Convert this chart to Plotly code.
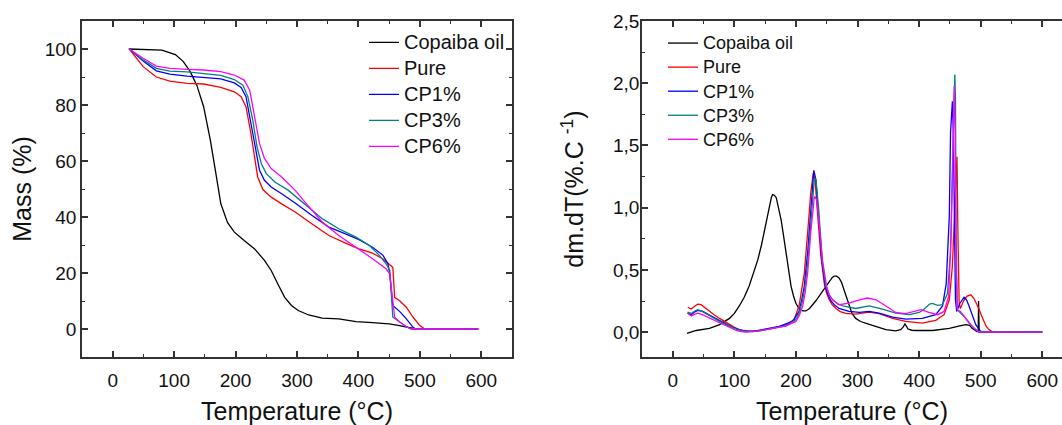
import plotly.graph_objects as go

# ---------------- TGA data (left panel) ----------------
tga_oil_T = [26, 50, 80, 102, 115, 126, 137, 148, 159, 168, 176, 187, 198, 214, 231, 247, 258, 269, 280, 291, 302, 319, 341, 368, 379, 396, 423, 450, 467, 483, 494, 595]
tga_oil_M = [100, 99.9, 99.6, 98, 95.5, 92, 87, 79.4, 67.4, 55.5, 44.7, 38, 34.6, 31.6, 28.6, 24.5, 20.9, 16, 11.3, 8.4, 6.6, 5.0, 3.9, 3.6, 3.2, 2.6, 2.3, 1.8, 1.2, 0.4, 0, 0]

tga_pure_T = [27, 49.5, 71, 93, 121, 148, 176, 198, 209, 217, 225, 231, 236, 244.5, 258, 275, 297, 324, 352, 379, 401, 423, 440, 456, 459, 467, 478, 489, 500, 508, 595]
tga_pure_M = [100, 93.7, 90, 88.5, 87.7, 87.5, 86.3, 84.7, 83, 79.4, 69.8, 61.5, 54.3, 49.8, 47.1, 44.7, 41.8, 37.6, 33.4, 30.7, 28.6, 27.1, 25, 22, 11.3, 10.1, 7.8, 4.2, 1.2, 0, 0]

tga_cp1_T = [27, 49.5, 71, 93, 121, 148, 176, 198, 209, 217, 225, 233, 239, 247, 258, 275, 297, 324, 352, 379, 401, 423, 440, 448, 451, 456, 467, 478, 489, 493, 595]
tga_cp1_M = [100, 95.7, 92.2, 91, 90.3, 89.9, 89.3, 87.9, 86.3, 83, 73.4, 62.6, 56.7, 53.1, 50.7, 48.3, 45, 40.6, 36.4, 34, 31.9, 29.2, 26.3, 23.3, 19.7, 8.4, 6.3, 3.6, 0.6, 0, 0]

tga_cp3_T = [27, 49.5, 71, 93, 121, 148, 176, 198, 212, 220, 228, 235, 242, 250, 264, 286, 313, 341, 368, 396, 418, 434, 445, 451, 456, 467, 478, 486, 595]
tga_cp3_M = [100, 96.1, 93.1, 92.1, 91.8, 91.3, 90.6, 89.1, 87.1, 83, 74.6, 65, 59, 55.5, 52.5, 49.5, 44.7, 39.4, 35.8, 32.8, 29.8, 26.3, 23.3, 20.9, 4.2, 2.4, 0.8, 0, 0]

tga_cp6_T = [27, 49.5, 71, 93, 121, 148, 176, 198, 214, 223, 231, 239, 247, 258, 275, 297, 313, 341, 368, 396, 423, 445, 451, 459, 467, 478, 486, 595]
tga_cp6_M = [100, 96.7, 93.9, 93.1, 92.7, 92.5, 91.9, 90.7, 88.9, 85.3, 75.8, 66.2, 60.9, 57.3, 54.3, 49.5, 45.3, 38.2, 33.4, 29.2, 25.1, 21.5, 19.7, 4.2, 2.6, 0.8, 0, 0]

# ---------------- DTG data (right panel) ----------------
dtg_oil_T = [23, 38, 59.5, 76, 92, 100, 108, 116, 124, 131, 138, 144, 149, 153, 157, 160, 162, 165, 168, 172, 176, 180, 184, 188, 192, 196, 200, 205, 211, 216, 222, 232, 243, 254, 259, 262, 266, 270, 274, 278, 282, 286, 291, 297, 305, 314, 330, 346, 362, 370, 374, 377, 379, 382, 388, 395, 422, 449, 466, 476, 482, 486, 494, 496, 496.5, 497.5, 600]
dtg_oil_V = [-0.01, 0.013, 0.03, 0.06, 0.11, 0.15, 0.21, 0.28, 0.37, 0.47, 0.58, 0.7, 0.82, 0.93, 1.02, 1.08, 1.105, 1.1, 1.08, 1.0, 0.9, 0.77, 0.64, 0.5, 0.37, 0.29, 0.23, 0.19, 0.17, 0.17, 0.19, 0.25, 0.33, 0.41, 0.44, 0.45, 0.45, 0.435, 0.4, 0.34, 0.28, 0.21, 0.15, 0.11, 0.085, 0.07, 0.045, 0.02, 0.01, 0.02, 0.04, 0.065, 0.05, 0.025, 0.015, 0.013, 0.013, 0.03, 0.05, 0.06, 0.055, 0.03, 0.005, 0.005, 0.25, 0.0, 0.0]

dtg_pure_T = [24.3, 30, 35, 40.5, 46, 52, 59.5, 67, 76, 84, 92, 100, 108, 116, 124, 140.5, 162, 184, 197, 205, 209, 213.5, 219, 224, 228, 231, 235, 240.5, 246, 250, 254, 259, 265, 272, 281, 297, 319, 335, 357, 378, 405, 427, 440.5, 449, 454, 458, 461.5, 463, 465, 467, 472, 478, 484, 489, 493, 497, 501, 505, 509, 513.5, 519, 600]
dtg_pure_V = [0.2, 0.185, 0.205, 0.225, 0.22, 0.195, 0.166, 0.14, 0.11, 0.085, 0.06, 0.038, 0.02, 0.01, 0.005, 0.013, 0.03, 0.06, 0.1, 0.21, 0.32, 0.47, 0.8, 1.12, 1.275, 1.225, 0.96, 0.61, 0.39, 0.31, 0.26, 0.22, 0.19, 0.165, 0.15, 0.145, 0.16, 0.148, 0.11, 0.086, 0.072, 0.094, 0.14, 0.26, 0.53, 1.06, 1.41, 0.8, 0.23, 0.19, 0.25, 0.29, 0.3, 0.27, 0.235, 0.19, 0.135, 0.086, 0.045, 0.02, 0.0, 0.0]

dtg_cp1_T = [24, 30, 35, 40.5, 48.6, 56, 65, 73, 81, 89, 97, 105, 113.5, 130, 151, 173, 194.6, 205, 209, 213.5, 219, 224, 229, 232.4, 237, 242, 247.6, 252, 257, 263, 270, 286, 303, 319, 335, 357, 378, 405, 427, 438, 444, 449, 451, 454, 455.6, 457, 459, 461, 466, 473, 477, 481, 484, 488, 492, 500, 600]
dtg_cp1_V = [0.153, 0.14, 0.16, 0.175, 0.166, 0.145, 0.12, 0.098, 0.078, 0.058, 0.038, 0.022, 0.01, 0.005, 0.024, 0.046, 0.086, 0.166, 0.25, 0.37, 0.64, 1.01, 1.3, 1.225, 0.93, 0.58, 0.37, 0.3, 0.25, 0.215, 0.19, 0.166, 0.158, 0.166, 0.153, 0.12, 0.105, 0.11, 0.14, 0.21, 0.39, 0.93, 1.6, 1.855, 1.6, 0.8, 0.26, 0.166, 0.23, 0.28, 0.26, 0.21, 0.166, 0.11, 0.06, 0.005, 0.0]

dtg_cp3_T = [24, 30, 35, 40.5, 47, 54, 62, 70, 78, 86.5, 95, 103, 111, 119, 140.5, 162, 184, 200, 205, 211, 215, 219, 224, 230, 232.4, 237, 243, 248.6, 254, 259.5, 267, 276, 297, 319, 340.5, 362, 384, 400, 407, 413.5, 417, 421.6, 426, 430, 438, 446, 451, 455, 458, 459, 460, 462, 465, 473, 481, 489, 497, 600]
dtg_cp3_V = [0.16, 0.15, 0.168, 0.18, 0.168, 0.148, 0.124, 0.1, 0.08, 0.06, 0.04, 0.024, 0.012, 0.005, 0.01, 0.03, 0.05, 0.1, 0.15, 0.26, 0.38, 0.555, 0.9, 1.24, 1.225, 0.985, 0.555, 0.37, 0.3, 0.26, 0.23, 0.21, 0.19, 0.21, 0.185, 0.153, 0.14, 0.158, 0.18, 0.21, 0.225, 0.23, 0.22, 0.215, 0.22, 0.31, 0.64, 1.47, 2.07, 1.87, 0.8, 0.18, 0.166, 0.126, 0.072, 0.03, 0.005, 0.0]

dtg_cp6_T = [24, 30, 35, 40.5, 47, 54, 62, 70, 78, 86.5, 95, 103, 111, 119, 140.5, 162, 184, 200, 205, 211, 215, 219, 224, 230, 233.5, 238, 243, 249.7, 254, 259.5, 270, 286, 303, 316, 330, 346, 362, 378, 395, 403, 416, 430, 440.5, 448, 452, 455, 457, 458.5, 460, 462, 467, 476, 484, 492, 497, 600]
dtg_cp6_V = [0.153, 0.13, 0.142, 0.153, 0.142, 0.126, 0.106, 0.086, 0.066, 0.046, 0.028, 0.013, 0.004, 0.0, 0.01, 0.03, 0.05, 0.086, 0.13, 0.21, 0.32, 0.475, 0.8, 1.09, 1.065, 0.85, 0.58, 0.37, 0.3, 0.26, 0.22, 0.233, 0.26, 0.274, 0.26, 0.21, 0.158, 0.148, 0.166, 0.18, 0.158, 0.14, 0.166, 0.29, 0.8, 1.6, 1.98, 1.6, 0.53, 0.18, 0.166, 0.11, 0.06, 0.02, 0.0, 0.0]

names = ["Copaiba oil", "Pure", "CP1%", "CP3%", "CP6%"]
colors = ["#000000", "#ff0000", "#0000ff", "#008080", "#ff00ff"]

tga_series = [(tga_oil_T, tga_oil_M), (tga_pure_T, tga_pure_M), (tga_cp1_T, tga_cp1_M),
              (tga_cp3_T, tga_cp3_M), (tga_cp6_T, tga_cp6_M)]
dtg_series = [(dtg_oil_T, dtg_oil_V), (dtg_pure_T, dtg_pure_V), (dtg_cp1_T, dtg_cp1_V),
              (dtg_cp3_T, dtg_cp3_V), (dtg_cp6_T, dtg_cp6_V)]

fig = go.Figure()
for (t, m), n, c in zip(tga_series, names, colors):
    fig.add_trace(go.Scatter(x=t, y=m, name='<span style="font-size:20px">%s</span>' % n,
                             mode="lines", xaxis="x", yaxis="y",
                             line=dict(color=c, width=1.3), legend="legend"))
for (t, v), n, c in zip(dtg_series, names, colors):
    fig.add_trace(go.Scatter(x=t, y=v, name='<span style="font-size:18px">%s</span>' % n,
                             mode="lines", xaxis="x2", yaxis="y2",
                             line=dict(color=c, width=1.3), legend="legend2"))

FONT = "Liberation Sans, Arial, sans-serif"
axcol = "#333333"
txtcol = "#111111"


def ax(**kw):
    d = dict(showline=True, linecolor=axcol, linewidth=1.5, ticks="inside", ticklen=6,
             tickwidth=1.5, tickcolor=axcol, showgrid=False, zeroline=False, automargin=False,
             tickfont=dict(family=FONT, size=19, color=txtcol))
    d.update(kw)
    return d


fig.update_layout(
    width=1062, height=425,
    margin=dict(l=0, r=0, t=21, b=68, autoexpand=False),
    plot_bgcolor="white", paper_bgcolor="white",
    separators=",.",
    font=dict(family=FONT, size=19, color=txtcol),
    xaxis=ax(domain=[82/1062, 512/1062], range=[-50, 650], dtick=100, tick0=0,
             mirror="ticks", anchor="y", ticklabelstandoff=5,
             minor=dict(dtick=50, ticklen=3, ticks="inside", tickcolor=axcol, tickwidth=1.2),
             title=dict(text="Temperature (°C)", font=dict(family=FONT, size=25, color=txtcol), standoff=15)),
    yaxis=ax(domain=[0, 1], range=[-10, 110], dtick=20, tick0=0, mirror="ticks", anchor="x",
             minor=dict(dtick=10, ticklen=3, ticks="inside", tickcolor=axcol, tickwidth=1.2),
             title=dict(text="Mass (%)", font=dict(family=FONT, size=25, color=txtcol), standoff=6)),
    xaxis2=ax(domain=[642/1062, 1], range=[-50, 632], dtick=100, tick0=0,
              mirror="ticks", anchor="y2", ticklabelstandoff=5,
              minor=dict(dtick=50, ticklen=3, ticks="inside", tickcolor=axcol, tickwidth=1.2),
              title=dict(text="Temperature (°C)", font=dict(family=FONT, size=25, color=txtcol), standoff=15)),
    yaxis2=ax(domain=[0, 1], range=[-0.2, 2.5], dtick=0.5, tick0=0, tickformat=".1f",
              mirror=False, anchor="x2", ticklabelstandoff=-3,
              minor=dict(dtick=0.25, ticklen=3, ticks="inside", tickcolor=axcol, tickwidth=1.2),
              title=dict(text="dm.dT(%.C <sup>-1</sup>)", font=dict(family=FONT, size=25, color=txtcol), standoff=22)),
    legend=dict(x=364/1062, y=0.99, xanchor="left", yanchor="top", bgcolor="rgba(0,0,0,0)",
                font=dict(family=FONT, size=17.7, color=txtcol), tracegroupgap=0),
    legend2=dict(x=663/1062, y=0.985, xanchor="left", yanchor="top", bgcolor="rgba(0,0,0,0)",
                 font=dict(family=FONT, size=16.2, color=txtcol), tracegroupgap=0),
    showlegend=True,
)

fig.write_html("out.html", config={"displayModeBar": False},
               post_script="document.body.style.margin='0';document.body.style.padding='0';"
                           "document.documentElement.style.overflow='hidden';")
